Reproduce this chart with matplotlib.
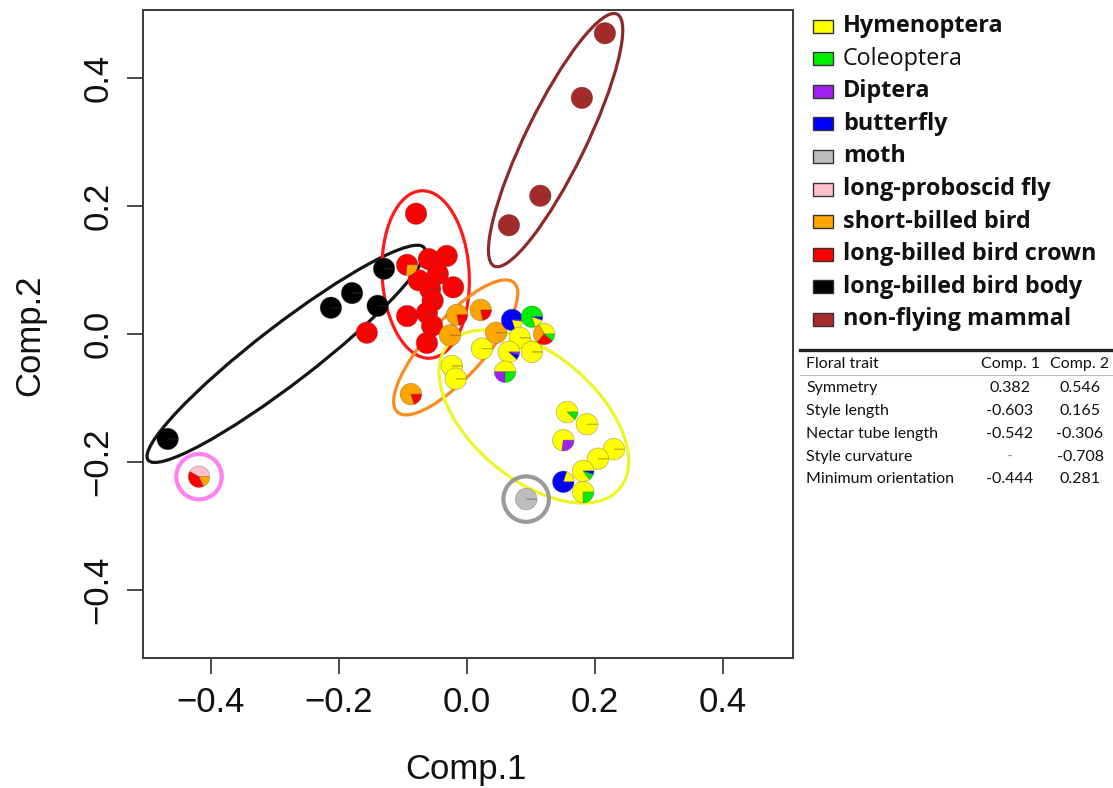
import matplotlib
matplotlib.use("Agg")
import matplotlib.pyplot as plt
from matplotlib.patches import Wedge, Ellipse, Circle, Rectangle
from matplotlib.lines import Line2D

# ---------------- data ----------------
groups = ["Hymenoptera", "Coleoptera", "Diptera", "butterfly", "moth",
          "long-proboscid fly", "short-billed bird", "long-billed bird crown",
          "long-billed bird body", "non-flying mammal"]
group_colors = ["#FFFF00", "#00EE00", "#A020F0", "#0000FF", "#BEBEBE",
                "#FFC0CB", "#FFA500", "#FF0000", "#000000", "#A52A2A"]
HY, CO, DI, BU, MO, PF, SB, LC, LB, NM = groups

# PCA scores of species (Comp.1, Comp.2) and visitor composition (pie parts)
comp1 = [-0.079, -0.059, -0.031, -0.045, -0.075, -0.057, -0.021, -0.053,
         -0.093, -0.062, -0.054, -0.062, -0.156, -0.093,
         -0.129, -0.179, -0.212, -0.139, -0.467,
         0.216, 0.180, 0.115, 0.066,
         -0.015, 0.022, -0.026, 0.046, -0.087,
         0.071, 0.102, 0.121,
         0.024, 0.083, 0.066, 0.102, -0.023, -0.017, 0.060,
         0.157, 0.188, 0.151, 0.230, 0.205, 0.182, 0.151, 0.182,
         0.093, -0.418]
comp2 = [0.188, 0.117, 0.122, 0.094, 0.084, 0.070, 0.073, 0.052,
         0.028, 0.033, 0.013, -0.014, 0.002, 0.108,
         0.102, 0.064, 0.041, 0.044, -0.164,
         0.470, 0.369, 0.216, 0.170,
         0.030, 0.0375, -0.002, 0.002, -0.094,
         0.022, 0.027, 0.000,
         -0.023, -0.006, -0.028, -0.028, -0.050, -0.070, -0.059,
         -0.122, -0.141, -0.166, -0.180, -0.195, -0.214, -0.231, -0.247,
         -0.258, -0.223]
visitors = [
    [(LC, 1)], [(LC, 1)], [(LC, 1)], [(LC, 1)], [(LC, 1)], [(LC, 1)], [(LC, 1)],
    [(LC, 1)], [(LC, 1)], [(LC, 1)], [(LC, 1)], [(LC, 1)], [(LC, 1)],
    [(LC, 0.74), (SB, 0.26)],
    [(LB, 1)], [(LB, 1)], [(LB, 1)], [(LB, 1)], [(LB, 1)],
    [(NM, 1)], [(NM, 1)], [(NM, 1)], [(NM, 1)],
    [(SB, 0.78), (LC, 0.22)], [(SB, 0.78), (LC, 0.22)], [(SB, 1)], [(SB, 1)],
    [(SB, 0.80), (LC, 0.20)],
    [(BU, 0.80), (HY, 0.18), (DI, 0.02)],
    [(CO, 0.80), (HY, 0.15), (BU, 0.05)],
    [(HY, 0.33), (SB, 0.31), (LC, 0.25), (CO, 0.11)],
    [(HY, 1)], [(HY, 1)], [(HY, 0.88), (BU, 0.08), (DI, 0.04)], [(HY, 1)],
    [(HY, 1)], [(HY, 1)], [(HY, 0.50), (DI, 0.25), (CO, 0.25)],
    [(HY, 0.88), (CO, 0.12)], [(HY, 1)], [(HY, 0.73), (DI, 0.27)], [(HY, 1)],
    [(HY, 1)], [(HY, 0.85), (CO, 0.10), (BU, 0.05)], [(HY, 0.20), (BU, 0.80)],
    [(HY, 0.75), (CO, 0.25)],
    [(MO, 1)],
    [(PF, 0.42), (LC, 0.40), (SB, 0.18)],
]

# group ellipses (centre, semi-axes, angle in degrees)
ell_groups = [LB, LC, SB, HY, NM]
ell_cx = [-0.282, -0.064, -0.017, 0.105, 0.139]
ell_cy = [-0.031, 0.093, -0.021, -0.129, 0.303]
ell_semi_a = [0.272, 0.131, 0.136, 0.175, 0.219]
ell_semi_b = [0.045, 0.068, 0.045, 0.098, 0.047]
ell_angle = [37.6, 93.0, 48.0, -40.0, 64.0]
# single-species groups marked with a ring
ring_groups = [MO, PF]
ring_cx = [0.093, -0.418]
ring_cy = [-0.258, -0.223]

# loading table
traits = ["Symmetry", "Style length", "Nectar tube length", "Style curvature",
          "Minimum orientation"]
load_comp1 = ["0.382", "-0.603", "-0.542", "-", "-0.444"]
load_comp2 = ["0.546", "0.165", "-0.306", "-0.708", "0.281"]

xticks = [-0.4, -0.2, 0.0, 0.2, 0.4]
yticks = [-0.4, -0.2, 0.0, 0.2, 0.4]

# ---------------- drawing ----------------
color_of = dict(zip(groups, group_colors))
ell_line_colors = {LB: "#151515", LC: "#FF1A1A", SB: "#FF8A1C",
                   HY: "#ECF526", NM: "#8E2A2A"}
ring_line_colors = {MO: "#9A9A9A", PF: "#FF80F0"}

W, H = 1113, 788
fig = plt.figure(figsize=(W / 100, H / 100), dpi=100)
L, R, T, B = 143, 793, 10, 658
ax = fig.add_axes([L / W, 1 - B / H, (R - L) / W, (B - T) / H])
ax.set_xlim(-0.5055, 0.5098)
ax.set_ylim(-0.5063, 0.5063)

axis_font = "Liberation Sans"
for sp in ax.spines.values():
    sp.set_color("#3a3a3a")
    sp.set_linewidth(1.4)
ax.set_xticks(xticks)
ax.set_yticks(yticks)
ax.set_xticklabels([f"{v:.1f}".replace("-", "\u2212") for v in xticks],
                   fontsize=25, family=axis_font)
ax.set_yticklabels([f"{v:.1f}".replace("-", "\u2212") for v in yticks],
                   fontsize=25, family=axis_font, rotation=90, va="center")
ax.tick_params(axis="both", direction="out", length=11.5, width=1.3,
               color="#3a3a3a", labelcolor="#111111")
ax.tick_params(axis="x", pad=9)
ax.tick_params(axis="y", pad=9)
ax.set_xlabel("Comp.1", fontsize=25, family=axis_font, color="#111111")
ax.set_ylabel("Comp.2", fontsize=25, family=axis_font, color="#111111")
ax.xaxis.set_label_coords((466 - L) / (R - L), -(770 - B) / (B - T))
ax.xaxis.label.set_va("center")
ax.yaxis.set_label_coords((30 - L) / (R - L), (B - 335) / (B - T))
ax.yaxis.label.set_va("center")

for g, cx, cy, a, b, ang in zip(ell_groups, ell_cx, ell_cy, ell_semi_a,
                                ell_semi_b, ell_angle):
    ax.add_patch(Ellipse((cx, cy), 2 * a, 2 * b, angle=ang, fill=False,
                         edgecolor=ell_line_colors[g], lw=2.3, zorder=2))
for g, cx, cy in zip(ring_groups, ring_cx, ring_cy):
    ax.add_patch(Circle((cx, cy), 0.0355, fill=False,
                        edgecolor=ring_line_colors[g], lw=3.0, zorder=2))

r = 0.0168
for x, y, parts in zip(comp1, comp2, visitors):
    tot = sum(f for _, f in parts)
    start = 0.0
    for g, f in parts:
        span = 360.0 * f / tot
        end = start + min(span, 359.8)
        ax.add_patch(Wedge((x, y), r, start, end, facecolor=color_of[g],
                           edgecolor=(0.25, 0.25, 0.25, 0.35), lw=0.6,
                           zorder=3))
        start = start + span

# ---------------- legend ----------------
def fx(px):
    return px / W


def fy(py):
    return 1 - py / H


leg_font = "Open Sans"
leg_y0, leg_dy = 26, 32.6
for i, (g, c) in enumerate(zip(groups, group_colors)):
    yc = leg_y0 + i * leg_dy
    fig.add_artist(Rectangle((fx(813), fy(yc + 6.5)), 20 / W, 13 / H,
                             transform=fig.transFigure, facecolor=c,
                             edgecolor="#333333", lw=1.0))
    fig.text(fx(843), fy(yc), g, fontsize=16.8, family=leg_font,
             fontweight="normal" if g == CO else "bold",
             ha="left", va="center", color="#111111")

# ---------------- loading table ----------------
fig.add_artist(Line2D([fx(800), fx(1113)], [fy(350), fy(350)],
                      transform=fig.transFigure, color="#222222", lw=2.4))
fig.add_artist(Line2D([fx(800), fx(1113)], [fy(375), fy(375)],
                      transform=fig.transFigure, color="#bbbbbb", lw=0.8))
tab_font = "Lato"
tab_size = 11.5
fig.text(fx(806), fy(364), "Floral trait", fontsize=tab_size, family=tab_font,
         ha="left", va="center", color="#111111")
fig.text(fx(1010), fy(364), "Comp. 1", fontsize=tab_size, family=tab_font,
         ha="center", va="center", color="#111111")
fig.text(fx(1080), fy(364), "Comp. 2", fontsize=tab_size, family=tab_font,
         ha="center", va="center", color="#111111")
row_y = [388, 411, 434, 457, 479]
for t, v1, v2, yy in zip(traits, load_comp1, load_comp2, row_y):
    fig.text(fx(806), fy(yy), t, fontsize=tab_size, family=tab_font,
             ha="left", va="center", color="#111111")
    fig.text(fx(1010), fy(yy), v1, fontsize=tab_size, family=tab_font,
             ha="center", va="center",
             color="#999999" if v1 == "-" else "#111111")
    fig.text(fx(1080), fy(yy), v2, fontsize=tab_size, family=tab_font,
             ha="center", va="center", color="#111111")

fig.savefig("out.png", dpi=100)
